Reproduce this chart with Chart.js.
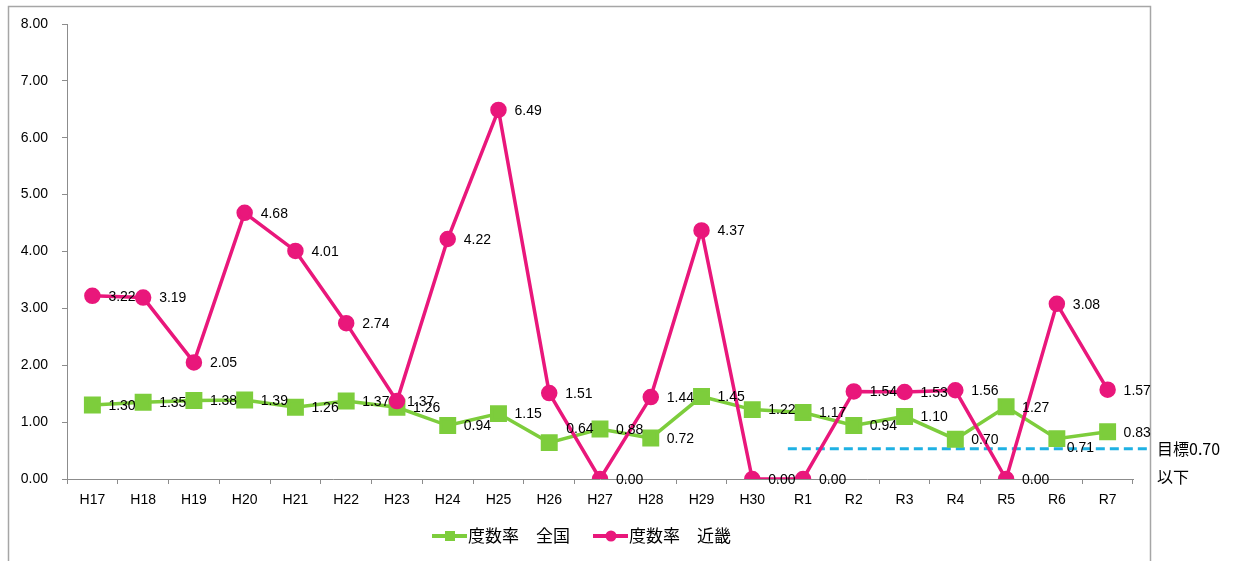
<!DOCTYPE html>
<html lang="ja">
<head>
<meta charset="utf-8">
<script src="https://cdn.jsdelivr.net/npm/chart.js@4.4.1/dist/chart.umd.min.js"></script>
<style>
  html, body { margin: 0; padding: 0; background: #fff; }
  #wrap { width: 1235px; height: 561px; }
</style>
</head>
<body>
<div id="wrap"><canvas id="rateChart" width="1235" height="561"></canvas></div>
<script>
const YEARS = ['H17', 'H18', 'H19', 'H20', 'H21', 'H22', 'H23', 'H24', 'H25', 'H26', 'H27',
               'H28', 'H29', 'H30', 'R1', 'R2', 'R3', 'R4', 'R5', 'R6', 'R7'];
const ZENKOKU = [1.30, 1.35, 1.38, 1.39, 1.26, 1.37, 1.26, 0.94, 1.15, 0.64, 0.88,
                 0.72, 1.45, 1.22, 1.17, 0.94, 1.10, 0.70, 1.27, 0.71, 0.83];
const KINKI = [3.22, 3.19, 2.05, 4.68, 4.01, 2.74, 1.37, 4.22, 6.49, 1.51, 0.00,
               1.44, 4.37, 0.00, 0.00, 1.54, 1.53, 1.56, 0.00, 3.08, 1.57];
const Y_TICKS = [0, 1, 2, 3, 4, 5, 6, 7, 8];
const TARGET_VALUE = 0.53;
const TARGET_TEXT = ['目標0.70', '以下'];
const SERIES_NAMES = ['度数率　全国', '度数率　近畿'];

const GREEN = '#7dcd3c';
const PINK = '#e9177b';
const AXIS = '#8c8c8c';
const LABEL_FONT = '14px "Liberation Sans", Arial, sans-serif';

// a few labels were nudged by hand in the original
const labelNudge = { 0: { 9: [1, -14], 19: [-6, 9] }, 1: { 6: [-6, 0] } };

const framePlugin = {
    id: 'frame',
    beforeDraw(chart) {
        const ctx = chart.ctx;
        ctx.save();
        ctx.strokeStyle = '#a6a6a6';
        ctx.lineWidth = 1.5;
        ctx.strokeRect(8.5, 6.5, 1142, 600);
        ctx.restore();
    }
};

const targetPlugin = {
    id: 'target',
    beforeDatasetsDraw(chart) {
        const x = chart.scales.x, y = chart.scales.y, ctx = chart.ctx;
        const step = x.getPixelForValue(1) - x.getPixelForValue(0);
        const x0 = x.getPixelForValue(14) - 0.3 * step;
        const yy = y.getPixelForValue(TARGET_VALUE);
        ctx.save();
        ctx.strokeStyle = '#1fb1e3';
        ctx.lineWidth = 3;
        ctx.setLineDash([9, 5]);
        ctx.beginPath(); ctx.moveTo(x0, yy); ctx.lineTo(1150, yy); ctx.stroke();
        ctx.setLineDash([]);
        ctx.fillStyle = '#000';
        ctx.font = '16px "Noto Sans CJK JP", sans-serif';
        ctx.textBaseline = 'middle';
        ctx.fillText(TARGET_TEXT[0], 1157, yy);
        ctx.fillText(TARGET_TEXT[1], 1157, yy + 28);
        ctx.restore();
    }
};

const valueLabels = {
    id: 'valueLabels',
    afterDatasetsDraw(chart) {
        const ctx = chart.ctx;
        ctx.save();
        ctx.font = LABEL_FONT;
        ctx.fillStyle = '#000';
        ctx.textBaseline = 'middle';
        ctx.textAlign = 'left';
        chart.data.datasets.forEach((ds, di) => {
            chart.getDatasetMeta(di).data.forEach((pt, i) => {
                const n = (labelNudge[di] && labelNudge[di][i]) || [0, 0];
                ctx.fillText(ds.data[i].toFixed(2), pt.x + 16 + n[0], pt.y + 1 + n[1]);
            });
        });
        ctx.restore();
    }
};

// legend: line sample with marker, then the series name
const lineLegend = {
    id: 'lineLegend',
    afterDraw(chart) {
        const ctx = chart.ctx;
        const y = 536;
        let x = 432;
        ctx.save();
        ctx.font = '17px "Noto Sans CJK JP", sans-serif';
        ctx.textBaseline = 'middle';
        chart.data.datasets.forEach((ds, di) => {
            ctx.strokeStyle = ds.borderColor;
            ctx.fillStyle = ds.borderColor;
            ctx.lineWidth = 4;
            ctx.beginPath(); ctx.moveTo(x, y); ctx.lineTo(x + 35, y); ctx.stroke();
            if (ds.pointStyle === 'rect') ctx.fillRect(x + 13, y - 5, 10, 10);
            else { ctx.beginPath(); ctx.arc(x + 18, y, 5.5, 0, Math.PI * 2); ctx.fill(); }
            ctx.fillStyle = '#000';
            ctx.fillText(ds.label, x + 36, y);
            x += 36 + ctx.measureText(ds.label).width + 23;
        });
        ctx.restore();
    }
};

new Chart(document.getElementById('rateChart'), {
    type: 'line',
    data: {
        labels: YEARS,
        datasets: [
            { label: SERIES_NAMES[0], data: ZENKOKU, borderColor: GREEN, backgroundColor: GREEN,
              borderWidth: 3.5, pointStyle: 'rect', pointRadius: 9.5, pointHoverRadius: 9.5,
              order: 1, tension: 0 },
            { label: SERIES_NAMES[1], data: KINKI, borderColor: PINK, backgroundColor: PINK,
              borderWidth: 3.5, pointStyle: 'circle', pointRadius: 6.5, pointHoverRadius: 6.5,
              order: 0, tension: 0 }
        ]
    },
    options: {
        responsive: false,
        animation: false,
        devicePixelRatio: 1,
        layout: { padding: { top: 24, right: 102, left: 0, bottom: 48 } },
        plugins: {
            tooltip: { enabled: false },
            legend: { display: false }
        },
        scales: {
            x: {
                offset: true,
                grid: { offset: true, drawOnChartArea: false, drawTicks: true, tickLength: 5, color: AXIS },
                border: { color: AXIS, width: 1 },
                ticks: { color: '#000', font: { family: '"Liberation Sans", Arial, sans-serif', size: 14 },
                         padding: 8, maxRotation: 0, autoSkip: false },
                afterFit: s => { s.height = 34; }
            },
            y: {
                min: Y_TICKS[0],
                max: Y_TICKS[Y_TICKS.length - 1],
                afterBuildTicks: s => { s.ticks = Y_TICKS.map(v => ({ value: v })); },
                grid: { drawOnChartArea: false, drawTicks: true, tickLength: 5, color: AXIS },
                border: { color: AXIS, width: 1 },
                ticks: { color: '#000', font: { family: '"Liberation Sans", Arial, sans-serif', size: 14 },
                         padding: 14, callback: v => Number(v).toFixed(2) },
                afterFit: s => { s.width = 67; }
            }
        }
    },
    plugins: [framePlugin, targetPlugin, valueLabels, lineLegend]
});
</script>
</body>
</html>
